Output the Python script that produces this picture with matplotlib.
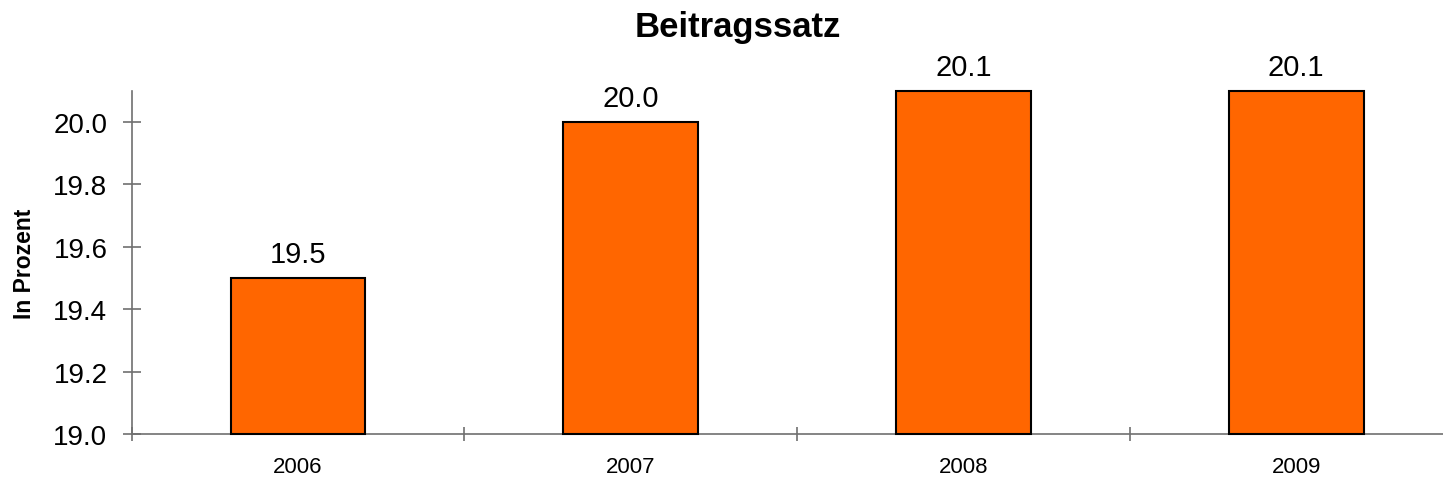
import matplotlib
matplotlib.use("Agg")
import matplotlib.pyplot as plt

plt.rcParams['font.family'] = ['Liberation Sans', 'DejaVu Sans']

years = ["2006", "2007", "2008", "2009"]
values = [19.5, 20.0, 20.1, 20.1]
value_labels = ["19.5", "20.0", "20.1", "20.1"]
y_ticks = [19.0, 19.2, 19.4, 19.6, 19.8, 20.0]
y_min, y_max = 19.0, 20.1

fig = plt.figure(figsize=(14.43, 4.81), dpi=100)
W, H = 1443, 481
left, right, bottom, top = 131.7, 1462.5, 435.0, 91.7
ax = fig.add_axes([left / W, (H - bottom) / H, (right - left) / W, (bottom - top) / H])

x = list(range(len(years)))
bars = ax.bar(x, [v - y_min for v in values], width=0.405, bottom=y_min,
              color="#FF6600", edgecolor="black", linewidth=1.5, zorder=3)
for b in bars:
    b.set_clip_on(False)

ax.set_xlim(-0.5, len(years) - 0.5)
ax.set_ylim(y_min, y_max)

ax.set_yticks(y_ticks)
ax.set_yticklabels([f"{v:.1f}" for v in y_ticks])
ax.set_xticks([i - 0.5 for i in range(len(years))])
ax.set_xticklabels([])
ax.set_xticks(x, minor=True)
ax.set_xticklabels(years, minor=True)

axis_color = "#707070"
for s in ["top", "right"]:
    ax.spines[s].set_visible(False)
for s in ["left", "bottom"]:
    ax.spines[s].set_color(axis_color)
    ax.spines[s].set_linewidth(1.2)

ax.tick_params(axis="y", which="major", direction="inout", length=13, width=1.2,
               color=axis_color, labelsize=20, pad=11, labelcolor="black")
ax.tick_params(axis="x", which="major", direction="inout", length=10, width=1.2,
               color=axis_color)
ax.tick_params(axis="x", which="minor", length=0, labelsize=16, pad=16,
               labelcolor="black")

for xi, v, lab in zip(x, values, value_labels):
    ax.annotate(lab, (xi, v), xytext=(0, 11.5), textcoords="offset points",
                ha="center", va="baseline", fontsize=21, color="black")

fig.text(738 / W, 1 - 37 / H, "Beitragssatz", ha="center", va="baseline",
         fontsize=25, fontweight="bold")
fig.text(25 / W, 1 - 264 / H, "In Prozent", rotation=90, ha="center", va="center",
         fontsize=16.5, fontweight="bold")

fig.savefig("out.png", dpi=100)
